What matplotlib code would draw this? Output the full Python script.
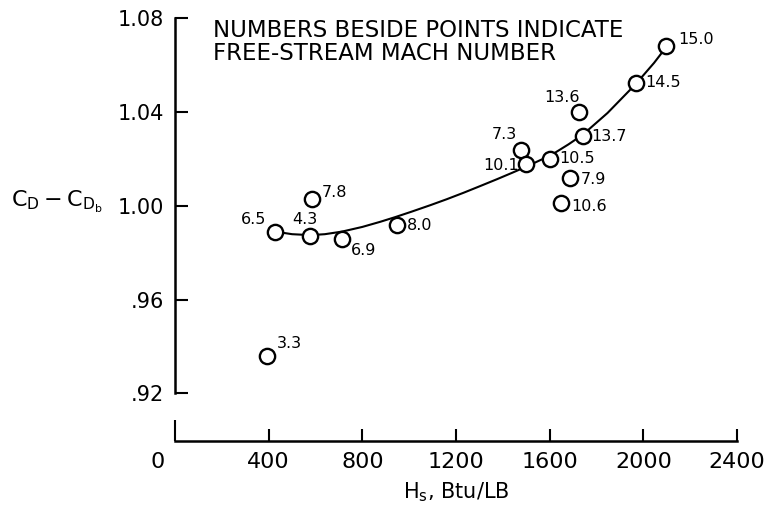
import numpy as np
import matplotlib.pyplot as plt
import matplotlib.transforms as mtransforms

plt.rcParams['font.family'] = 'DejaVu Sans'
plt.rcParams['mathtext.default'] = 'regular'

# test points: stagnation enthalpy (Btu/lb), drag coefficient difference, Mach number
hs = [392, 428, 578, 585, 713, 948, 1479, 1500, 1601, 1687, 1647, 1725, 1742, 1968, 2096]
cd = [0.936, 0.989, 0.987, 1.003, 0.986, 0.992, 1.024, 1.018, 1.020, 1.012,
      1.001, 1.040, 1.030, 1.0525, 1.068]
mach = ['3.3', '6.5', '4.3', '7.8', '6.9', '8.0', '7.3', '10.1', '10.5', '7.9',
        '10.6', '13.6', '13.7', '14.5', '15.0']

# faired curve through the data
curve_hs = [428, 500, 578, 640, 713, 800, 877, 941, 1010, 1091, 1160, 1233, 1305,
            1376, 1440, 1500, 1560, 1601, 1680, 1742, 1847, 1968, 2046, 2096]
curve_cd = [0.9890, 0.9879, 0.9875, 0.9879, 0.9890, 0.9910, 0.9932, 0.9952, 0.9975,
            1.0003, 1.0028, 1.0056, 1.0085, 1.0114, 1.0141, 1.0167, 1.0195, 1.0213,
            1.0262, 1.0304, 1.0396, 1.0520, 1.0610, 1.0675]

xticks = [0, 400, 800, 1200, 1600, 2000, 2400]
yticks = [0.92, 0.96, 1.00, 1.04, 1.08]
ytick_labels = ['.92', '.96', '1.00', '1.04', '1.08']

# label offsets (pixels) for the Mach numbers
offsets = [(23, 12), (-22, 12), (-5, 17), (23, 6), (22, -12), (23, -1), (-17, 15),
           (-25, -2), (27, 0), (23, -2), (28, -3), (-17, 15), (26, -1), (27, 0), (30, 7)]

fig = plt.figure(figsize=(7.74, 5.08), dpi=100)
ax = fig.add_axes([175/774, (508-440.7)/508, 562/774, (440.7-18.3)/508])

ax.plot(curve_hs, curve_cd, color='black', lw=1.5, zorder=2)
ax.plot(hs, cd, 'o', ms=11, mfc='white', mec='black', mew=1.7, zorder=3)

for h, c, m, (dx, dy) in zip(hs, cd, mach, offsets):
    ax.annotate(m, (h, c), xytext=(dx, dy), textcoords='offset pixels',
                ha='center', va='center', fontsize=11.5)

ax.set_xlim(0, 2400)
ax.set_ylim(0.8998, 1.08)
ax.spines['top'].set_visible(False)
ax.spines['right'].set_visible(False)
ax.spines['left'].set_bounds(0.92, 1.08)
ax.spines['bottom'].set_bounds(0, 2400)
ax.spines['left'].set_linewidth(1.8)
ax.spines['bottom'].set_linewidth(1.8)

ax.set_xticks(xticks)
ax.set_yticks(yticks)
ax.set_yticklabels(ytick_labels)
ax.tick_params(axis='both', direction='in', length=9, width=1.5, pad=8)
ax.tick_params(axis='y', labelsize=15)
ax.tick_params(axis='x', labelsize=16)

# longer tick at the origin, and the "0" label pushed left
ax.xaxis.get_major_ticks()[0].tick1line.set_markersize(15)
lab0 = ax.get_xticklabels()[0]
lab0.set_transform(lab0.get_transform() +
                   mtransforms.ScaledTranslation(-17/100, 0, fig.dpi_scale_trans))

ax.set_xlabel('$H_s$, Btu/LB', fontsize=15, labelpad=6)
fig.text(57/774, 1 - 202/508, '$C_D - C_{D_b}$', fontsize=16, ha='center', va='center')

ax.text(213/774, 1 - 19/508, 'NUMBERS BESIDE POINTS INDICATE\nFREE-STREAM MACH NUMBER',
        transform=fig.transFigure, fontsize=16.5, ha='left', va='top', linespacing=1.0)

fig.savefig('out.png', dpi=100)
